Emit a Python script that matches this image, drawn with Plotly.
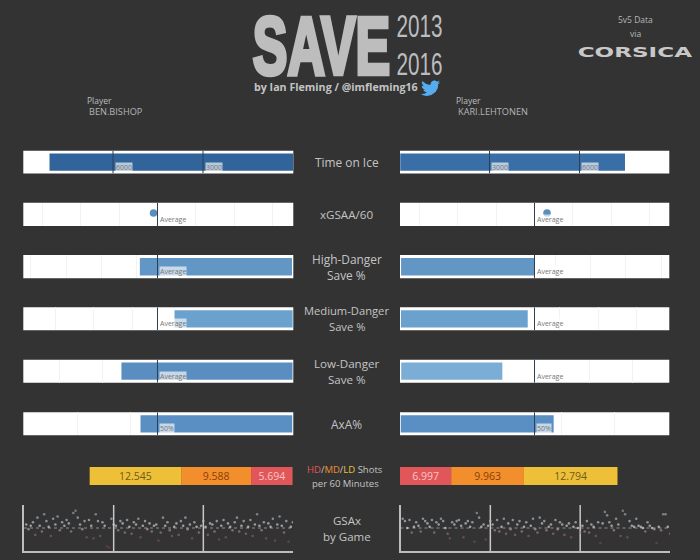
import plotly.graph_objects as go

BG = "#333333"
LEFT_PLAYER = "BEN.BISHOP"
RIGHT_PLAYER = "KARI.LEHTONEN"
ROW_NAMES = ["Time on Ice", "xGSAA/60", "High-Danger<br>Save %", "Medium-Danger<br>Save %", "Low-Danger<br>Save %", "AxA%"]
ROW_SIZES = [11.9, 11.6, 11.9, 11.2, 11.6, 11.9]

toi_left, toi_right = 8116, 7516
toi_ticks = [3000, 6000]
xgsaa_left, xgsaa_right = 0.0052, 0.0163
hd_left, hd_right, hd_avg = 0.8091, 0.8041, 0.8041
md_left, md_right, md_avg = 0.91954, 0.92087, 0.92175
ld_left, ld_right, ld_avg = 0.97279, 0.96486, 0.9686
axa_left, axa_right, axa_avg = 0.5159, 0.5179, 0.5

xgsaa_grid = [-0.15, -0.1, -0.05, 0.05, 0.1, 0.15]
hd_grid = [0.82, 0.83, 0.84, 0.81]
md_grid = [0.925, 0.93, 0.935]
ld_grid = [0.975, 0.98]
axa_grid = [0.525, 0.575]

shot_labels = ["HD", "MD", "LD"]
shots_left = [5.694, 9.588, 12.545]
shots_right = [6.997, 9.963, 12.794]
shot_colors = ["#e15759", "#f28e2b", "#edc038"]
shot_text = ["#f9c6c6", "#8a3f0c", "#6e5a1e"]

season_breaks = [40, 80]
gsax_left = [
    0.3, -0.1, 0.2, 0.5, -0.6, 0.9, 0.2, -0.3, 1.2, 0.6, 0.1, -0.7, 0.8, 0.3, 1.0, -0.2, 0.5, 0.2, 0.7, 0.4,
    -0.3, 1.3, 1.5, 0.9, 0.3, -0.1, 0.6, -0.8, 0.7, 0.2, -0.9, 1.2, 0.6, -0.7, 0.5, 0.2, -1.6, -1.7, 0.8, 0.3,
    0.2, -0.2, 0.6, 0.4, -0.4, 0.7, 0.1, -0.5, 0.5, 0.3, 0.8, -0.8, 0.2, 0.6, -0.1, 0.4, -0.3, 0.2, 0.3, -1.1,
    -0.4, 0.9, 0.2, 0.5, -0.2, -0.7, 0.1, 0.4, -0.6, 0.6, 0.2, 0.9, -0.1, 0.3, -0.9, 0.5, 0.1, -0.4, 0.2, 0.6,
    0.1, -0.6, 0.4, 0.3, -0.3, 0.6, -1.0, 0.2, 0.7, -0.8, 0.4, 0.1, -0.2, 0.5, 0.9, -0.3, 0.2, 0.6, -0.5, 0.1,
    0.7, -0.7, 0.3, 1.2, 0.2, -0.2, 0.5, -0.9, 0.4, 0.1, 0.8, -1.1, 0.3, 1.0, 0.2, -0.4, 0.6, -1.2, 0.1, 0.5,
]
gsax_right = [
    0.8, 0.6, 0.0, 0.7, -0.4, 0.1, 0.5, 0.2, -0.3, 0.8, 0.6, 0.4, 0.1, 0.7, -0.4, 0.5, 0.3, 0.8, 0.6, 0.0,
    -0.5, -0.9, 0.5, 0.3, 0.6, 0.7, 0.2, -0.8, 0.4, 0.6, 0.1, 0.5, -1.2, 1.3, 0.9, 0.1, 0.3, -1.0, 0.2, 0.6,
    0.3, -0.2, 0.7, -0.3, 0.1, 0.8, -0.5, 0.4, -0.1, 0.7, -0.6, 0.3, 0.6, -0.3, 0.1, 0.5, -0.7, 0.2, 0.8, -0.1,
    -0.4, 0.9, 0.4, 0.6, -0.2, 0.1, 0.3, -0.5, 0.7, -0.1, 0.5, 0.3, -0.6, 0.2, 0.4, -0.8, 0.1, 0.5, 0.0, -0.4,
    0.2, -0.3, 0.6, -0.4, 0.3, 0.1, -0.7, 0.5, -1.3, 0.4, 1.4, 1.1, 0.5, 0.2, -0.2, 0.8, 0.3, -0.7, 1.5, 1.2,
    -0.8, 0.6, 0.2, 0.1, 0.8, 0.2, 0.1, 0.0, -0.3, 0.5, 0.2, 0.0, -0.1, -1.3, 0.1, -0.2, 1.2, 1.2, 0.1, -0.5,
]

fig = go.Figure()
W, H = 700, 560
ann, shapes, layout_axes = [], [], {}
n_axis = [0]


def fx(p):
    return p / W


def fy(p):
    return 1 - p / H


def axis_pair(x0, x1, y0, y1, xrange, yrange, xgrid=None):
    n_axis[0] += 1
    k = n_axis[0]
    s = "" if k == 1 else str(k)
    layout_axes["xaxis" + s] = dict(domain=[fx(x0), fx(x1)], range=xrange, anchor="y" + s, showticklabels=False,
                                    ticks="", zeroline=False, showgrid=bool(xgrid), tickvals=xgrid or [],
                                    gridcolor="#f2f2f2", gridwidth=1, showline=False, fixedrange=True)
    layout_axes["yaxis" + s] = dict(domain=[fy(y1), fy(y0)], range=yrange, anchor="x" + s, showticklabels=False,
                                    ticks="", zeroline=False, showgrid=False, showline=False, fixedrange=True)
    return "x" + s, "y" + s


L0, L1, R0, R1 = 23.3, 293.3, 400, 669.3
rows_y = [(150.7, 173.5), (202.7, 226), (255, 278.3), (307.3, 330.3), (359.7, 382.7), (412.3, 435.3)]

specs = [
    dict(rl=[8990, -10], rr=[17, 8993], gl=None, vl=toi_left, vr=toi_right, bl=0, br=25, cl="#30649a", cr="#3a6ea6",
         refs=toi_ticks, labels=["3000", "6000"]),
    dict(rl=[0.1747, -0.1768], rr=[-0.1751, 0.1755], gl=xgsaa_grid, vl=xgsaa_left, vr=xgsaa_right, bl=None, br=None,
         cl="#5b8fb9", cr="#5b8fb9", refs=[0], labels=["Average"]),
    dict(rl=[0.84212, 0.76563], rr=[0.7660, 0.84229], gl=hd_grid, vl=hd_left, vr=hd_right, bl=0.7660, br=0.7663,
         cl="#6296c4", cr="#6296c4", refs=[hd_avg], labels=["Average"]),
    dict(rl=[0.93918, 0.90411], rr=[0.90428, 0.93926], gl=md_grid, vl=md_left, vr=md_right, bl=0.9042, br=0.9044,
         cl="#6ba1cd", cr="#6ba1cd", refs=[md_avg], labels=["Average"]),
    dict(rl=[0.9842, 0.95281], rr=[0.95296, 0.98427], gl=ld_grid, vl=ld_left, vr=ld_right, bl=0.9529, br=0.9531,
         cl="#5a8ec0", cr="#7aaed6", refs=[ld_avg], labels=["Average"]),
    dict(rl=[0.62542, 0.37309], rr=[0.3743, 0.62598], gl=axa_grid, vl=axa_left, vr=axa_right, bl=0.3741, br=0.3750,
         cl="#5a8fc3", cr="#5a8fc3", refs=[axa_avg], labels=["50%"]),
]

for (y0, y1), sp in zip(rows_y, specs):
    for side in "lr":
        x0, x1 = (L0, L1) if side == "l" else (R0, R1)
        xa, ya = axis_pair(x0, x1, y0, y1, sp["r" + side], [0, 1], sp["gl"])
        shapes.append(dict(type="rect", xref=xa + " domain", yref=ya + " domain", x0=0, x1=1, y0=0, y1=1,
                           fillcolor="white", line_width=0, layer="below"))
        val, base, col = sp["v" + side], sp["b" + side], sp["c" + side]
        if base is None:
            fig.add_trace(go.Scatter(x=[val], y=[0.56], mode="markers", xaxis=xa, yaxis=ya, showlegend=False,
                                     marker=dict(size=7.5, color=col), hoverinfo="skip"))
        else:
            fig.add_trace(go.Bar(x=[val - base], base=[base], y=[0.5], width=[0.75], orientation="h", xaxis=xa,
                                 yaxis=ya, marker=dict(color=col, line_width=0), showlegend=False, hoverinfo="skip"))
        for ref, text in zip(sp["refs"], sp["labels"]):
            fig.add_trace(go.Scatter(x=[ref, ref], y=[0, 1], mode="lines", xaxis=xa, yaxis=ya, showlegend=False,
                                     line=dict(color="#2b3f55", width=1), hoverinfo="skip"))
            ann.append(dict(x=ref, y=0.28, xref=xa, yref=ya, text=text, showarrow=False, xanchor="left",
                            yanchor="middle", xshift=1.5, font=dict(family="Open Sans", size=7, color="#777777"),
                            bgcolor="rgba(255,255,255,0.65)", borderpad=0))

for side, vals in (("l", shots_left), ("r", shots_right)):
    if side == "l":
        xa, ya = axis_pair(L0, L1, 467, 485, [36.93, -0.1], [0, 1])
    else:
        xa, ya = axis_pair(R0, R1, 467, 485, [0, 36.84], [0, 1])
    base = 0
    for v, c, t, name in zip(vals, shot_colors, shot_text, shot_labels):
        fig.add_trace(go.Bar(x=[v], base=[base], y=[0.5], width=[1], orientation="h", xaxis=xa, yaxis=ya, name=name,
                             marker=dict(color=c, line_width=0), text=[f"{v:.3f}"], textposition="inside",
                             insidetextanchor="middle", textangle=0, constraintext="none",
                             textfont=dict(family="Open Sans", size=10.5, color=t), showlegend=False,
                             hoverinfo="skip"))
        base += v

cscale = [[0, "#5c3a3a"], [0.3, "#7d5555"], [0.47, "#a89393"], [0.5, "#d8d8d8"], [0.62, "#b4bfca"], [1, "#74859a"]]
for vals, x0, x1 in ((gsax_left, 24, 293), (gsax_right, 400.5, 670)):
    xa, ya = axis_pair(x0, x1, 505, 551, [0, 120], [-2, 2])
    layout_axes[("xaxis" + xa[1:])].update(showline=True, linecolor="#bdbdbd", linewidth=1.5)
    layout_axes[("yaxis" + ya[1:])].update(showline=True, linecolor="#bdbdbd", linewidth=1.5)
    games = list(range(1, len(vals) + 1))
    fig.add_trace(go.Scatter(x=[0, 120], y=[0, 0], mode="lines", xaxis=xa, yaxis=ya, showlegend=False,
                             line=dict(color="#8f8f8f", width=1, dash="dot"), hoverinfo="skip"))
    for b in season_breaks:
        fig.add_trace(go.Scatter(x=[b, b], y=[-2, 2], mode="lines", xaxis=xa, yaxis=ya, showlegend=False,
                                 line=dict(color="#c8c8c8", width=1.5), hoverinfo="skip"))
    fig.add_trace(go.Scatter(x=games, y=vals, mode="markers", xaxis=xa, yaxis=ya, showlegend=False, hoverinfo="skip",
                             marker=dict(size=2.6, color=vals, cmin=-2, cmax=2, colorscale=cscale, line_width=0,
                                         opacity=0.7)))


def label(px, py, text, size, color="#c4c4c4", family="Open Sans", anchor="center"):
    ann.append(dict(x=fx(px), y=fy(py), xref="paper", yref="paper", text=text, showarrow=False, xanchor=anchor,
                    yanchor="middle", align=anchor, font=dict(family=family, size=size, color=color)))


label(321.5, 44.5, "<b>SAVE</b>", 54, "#bdbdbd", "Liberation Sans")
label(419, 26.5, "2013", 22, "#bdbdbd", "Liberation Sans")
label(419, 64.5, "2016", 22, "#bdbdbd", "Liberation Sans")
label(336, 87, "<b>by Ian Fleming / @imfleming16</b>", 10.7, "#c4c4c4")
label(85, 100, "Player", 8.5, "#bdbdbd", anchor="left")
label(86.5, 112, LEFT_PLAYER, 9.2, "#b5b5b5", anchor="left")
label(454, 100, "Player", 8.5, "#bdbdbd", anchor="left")
label(455.5, 112, RIGHT_PLAYER, 9.2, "#b5b5b5", anchor="left")
label(635, 20, "5v5 Data", 8.5, "#b5b5b5")
label(635, 33, "via", 8.5, "#b5b5b5")
label(635, 52, "<b>CORSICA</b>", 16.5, "#c8c8c8", "DejaVu Sans")

for (y0, y1), name, size in zip(rows_y, ROW_NAMES, ROW_SIZES):
    yc = (y0 + y1) / 2
    if "<br>" in name:
        a, b = name.split("<br>")
        label(346.5, yc - 8, a, size)
        label(346.5, yc + 8, b, size)
    else:
        label(346.5, yc, name, size)
label(345, 469, f"<span style='color:#e15759'>{shot_labels[0]}</span>/<span style='color:#f28e2b'>{shot_labels[1]}</span>/"
      f"<span style='color:#edc038'>{shot_labels[2]}</span> Shots", 9.5)
label(345, 483, "per 60 Minutes", 9.5)
label(347, 520, "GSAx", 11.5)
label(347, 536, "by Game", 11.5)

bird = [(24, 4.6), (21.1, 5.3), (23.3, 2.6), (20.2, 3.8), (16.6, 2.2), (13.3, 3.6), (11.7, 7.1), (11.8, 8.2),
        (6.5, 7), (1.6, 3.2), (1, 5.6), (3.2, 9.7), (0.9, 9.1), (1.5, 12), (4.9, 14), (2.7, 14.1), (4, 16),
        (7.3, 17.5), (4, 19.2), (0, 19.5), (3.5, 21.2), (7.6, 21.8), (13, 20.7), (18.5, 16.5), (21, 12), (21.5, 7.2)]
path = "M " + " L ".join(f"{fx(421 + 0.8 * a):.5f},{fy(78.5 + 0.8 * b):.5f}" for a, b in bird) + " Z"
shapes.append(dict(type="path", xref="paper", yref="paper", path=path, fillcolor="#55acee", line_width=0))

fig.update_layout(width=W, height=H, margin=dict(l=0, r=0, t=0, b=0), paper_bgcolor=BG, plot_bgcolor="rgba(0,0,0,0)",
                  barmode="overlay", showlegend=False, annotations=ann, shapes=shapes, **layout_axes)

squeeze = """
document.body.style.margin='0';
var squeeze={'SAVE':[0.96,1.5,3],'2013':[0.94,1.45,0],'2016':[0.94,1.45,0],'CORSICA':[1.4,0.85,0]};
document.querySelectorAll('text.annotation-text').forEach(function(t){
  var s=squeeze[t.textContent];
  if(s){t.style.transformBox='fill-box';t.style.transformOrigin='center';
        t.style.transform='scale('+s[0]+','+s[1]+')';
        if(s[2]){t.style.stroke='#bdbdbd';t.style.strokeWidth=s[2]+'px';}}
});
"""
fig.write_html("out.html", post_script=squeeze, config={"displayModeBar": False})
